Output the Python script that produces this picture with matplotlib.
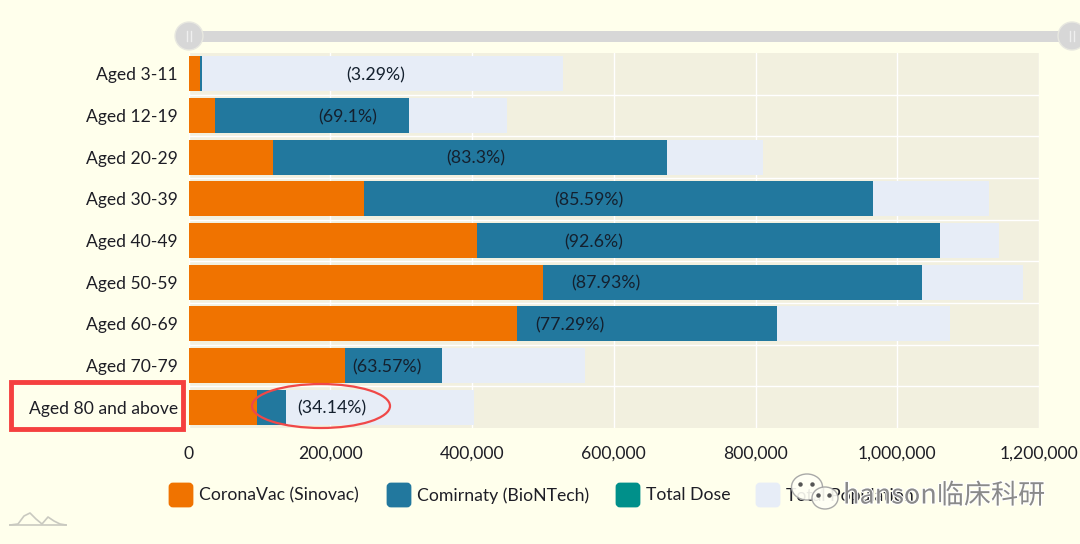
import matplotlib
matplotlib.use("Agg")
import matplotlib.pyplot as plt
import matplotlib.patheffects as pe
from matplotlib.patches import Rectangle, Ellipse, Circle, FancyBboxPatch
from matplotlib.ticker import FuncFormatter

plt.rcParams['font.family'] = ['Lato', 'DejaVu Sans']

groups = ["Aged 3-11", "Aged 12-19", "Aged 20-29", "Aged 30-39", "Aged 40-49",
          "Aged 50-59", "Aged 60-69", "Aged 70-79", "Aged 80 and above"]
sinovac = [16000, 37000, 119000, 247000, 407000, 500000, 463000, 221000, 96000]
biontech = [3000, 274000, 556000, 719000, 653000, 535000, 367000, 136000, 41000]
population = [528000, 449000, 810000, 1129000, 1144000, 1177000, 1075000, 560000, 403000]
pct_labels = ["(3.29%)", "(69.1%)", "(83.3%)", "(85.59%)", "(92.6%)",
              "(87.93%)", "(77.29%)", "(63.57%)", "(34.14%)"]
xticks = [0, 200000, 400000, 600000, 800000, 1000000, 1200000]

legend_names = ["CoronaVac (Sinovac)", "Comirnaty (BioNTech)", "Total Dose", "Total Population"]

BG = "#FFFFEC"
PLOT_BG = "#F2F0DF"
ORANGE = "#F07300"
BLUE = "#22789E"
TEAL = "#00908A"
POP = "#E7EDF7"
TXT = "#1E1E26"
W, H = 1080, 544

fig = plt.figure(figsize=(W / 100, H / 100), dpi=100, facecolor=BG)
ax = fig.add_axes([188.5 / W, 1 - 428 / H, (1039 - 188.5) / W, 375 / H], facecolor=PLOT_BG)

y = list(range(len(groups)))
ax.barh(y, population, height=0.84, color=POP, zorder=3)
ax.barh(y, sinovac, height=0.84, color=ORANGE, zorder=4)
ax.barh(y, biontech, left=sinovac, height=0.84, color=BLUE, zorder=4)

for i in y:
    ax.text(population[i] / 2, i, pct_labels[i], ha="center", va="center_baseline",
            fontsize=12.8, color="#14202E", zorder=6)

ax.set_xlim(0, 1200000)
ax.set_ylim(len(groups) - 0.5, -0.5)
ax.set_yticks(y)
ax.set_yticklabels(groups)
ax.set_xticks(xticks)
ax.xaxis.set_major_formatter(FuncFormatter(lambda v, p: f"{int(v):,}"))
ax.tick_params(axis="both", length=0, labelsize=12.6, labelcolor=TXT)
ax.tick_params(axis="y", pad=7.5)
ax.tick_params(axis="x", pad=13)
ax.grid(axis="x", color="white", lw=1, zorder=1)
for i in y[:-1]:
    ax.axhline(i + 0.5, color="white", lw=1, zorder=2)
for s in ax.spines.values():
    s.set_visible(False)

# overlay in pixel coordinates for slider, legend, marks on top
ov = fig.add_axes([0, 0, 1, 1], facecolor="none")
ov.set_xlim(0, W)
ov.set_ylim(H, 0)
ov.axis("off")

# slider
ov.add_patch(Rectangle((200, 30.5), 860, 11.5, color="#D7D7D7", lw=0))
for cx in (189, 1072):
    ov.add_patch(Circle((cx, 36), 14, facecolor="#D7D7D7", edgecolor="#E8E8E0", lw=1))
    ov.plot([cx - 2, cx - 2], [31, 41], color="#EFEFEF", lw=1)
    ov.plot([cx + 2, cx + 2], [31, 41], color="#EFEFEF", lw=1)

# legend
legend_x = [169, 387, 616, 756]
legend_cols = [ORANGE, BLUE, TEAL, POP]
for lx, col, name in zip(legend_x, legend_cols, legend_names):
    ov.add_patch(FancyBboxPatch((lx + 1, 484), 22, 22, boxstyle="round,pad=0,rounding_size=3",
                                mutation_aspect=1, facecolor=col, edgecolor=col, lw=2))
    ov.text(lx + 30, 495.5, name, fontsize=12.7, color=TXT, ha="left", va="center")

# red marks
ov.add_patch(Rectangle((11, 382), 172, 47, fill=False, edgecolor="#F5403F", lw=3.5))
ov.add_patch(Ellipse((321, 406), 138, 44, fill=False, edgecolor="#F04848", lw=1.6))

# small logo lower left
logo_x = [10, 18, 24, 30, 36, 42, 48, 54, 60, 66]
logo_y = [525, 524, 516, 513, 519, 524, 517, 521, 524, 525]
ov.plot(logo_x, logo_y, color="#C9C9C0", lw=1.2)
ov.plot([10, 66], [525, 525], color="#C9C9C0", lw=1.2)

# watermark, wechat style icon
halo = [pe.withStroke(linewidth=1.5, foreground="#FFFFFF")]
ov.add_patch(Ellipse((807, 487), 31, 26, facecolor="#FFFFF6", edgecolor="#A0A0A0", lw=1, alpha=0.9, zorder=7))
ov.add_patch(Ellipse((825, 498), 26, 22, facecolor="#FFFFF6", edgecolor="#A0A0A0", lw=1, alpha=0.9, zorder=7))
ov.plot([800, 812, 818, 829], [484, 484, 495, 495], ls="none", marker="o", ms=2.2, color="#555555", zorder=8)
ov.text(843, 496, "hanson临床科研", fontsize=19.5, color="#8A8A8A", ha="left", va="center",
        family=["Noto Sans CJK SC", "DejaVu Sans"], path_effects=halo, zorder=8)

fig.savefig("out.png", dpi=100, facecolor=BG)
